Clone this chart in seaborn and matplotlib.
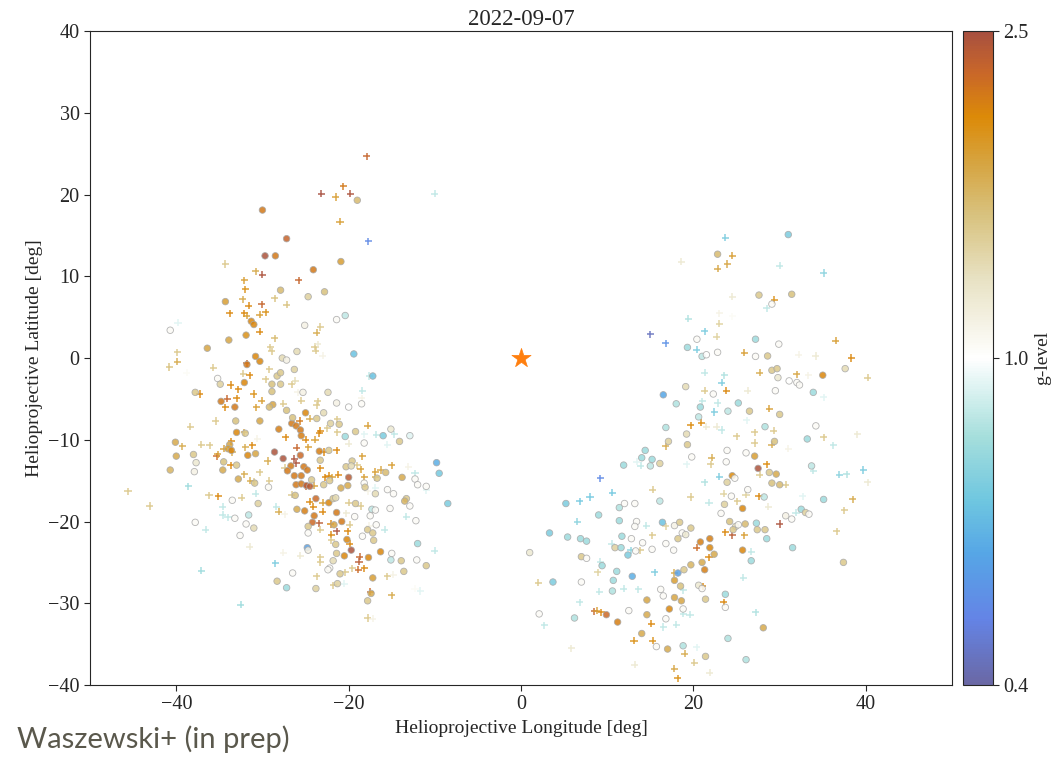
import numpy as np
import pandas as pd
import matplotlib
matplotlib.use("Agg")
import matplotlib.pyplot as plt
import seaborn as sns
from matplotlib.colors import LinearSegmentedColormap, LogNorm
from matplotlib.cm import ScalarMappable

# ---------------- data ----------------
title_text = "2022-09-07"
x_label = "Helioprojective Longitude [deg]"
y_label = "Helioprojective Latitude [deg]"
cbar_label = "g-level"
cbar_ticks = [0.4, 1.0, 2.5]
cbar_ticklabels = ["0.4", "1.0", "2.5"]
x_ticks = [-40, -20, 0, 20, 40]
y_ticks = [-40, -30, -20, -10, 0, 10, 20, 30, 40]
credit_text = "Waszewski+ (in prep)"

star_lon = [0.0]
star_lat = [0.0]

circ_lon = [
    -19.0, -30.0, -27.2, -29.7, -28.5, -20.9, -24.1, -27.9, -24.7, -22.8,
    -34.3, -31.3, -31.0, -40.7, -25.1, -21.4, -20.4, -31.9, -33.9, -36.4,
    -26.0, -19.4, -30.8, -27.7, -30.3, -31.8, -27.2, -28.3, -27.9, -26.3,
    -32.1, -35.2, -34.9, -28.9, -27.9, -37.8, -28.9, -34.8, -33.2, -28.8,
    -29.2, -27.2, -25.3, -22.4, -21.4, -20.0, -18.5, -17.2, -25.0, -26.6,
    -26.1, -26.5, -23.7, -22.9, -30.3, -33.1, -28.1, -25.6, -22.1, -21.1,
    -33.0, -32.0, -25.5, -19.2, -20.4, -18.2, -16.0, -15.1, -12.9, -14.1,
    -40.1, -40.0, -38.0, -37.7, -37.9, -40.7, -33.8, -34.0, -33.6, -34.5,
    -33.0, -34.6, -31.7, -30.8, -28.6, -27.6, -26.7, -27.1, -25.6, -25.2,
    -26.3, -25.5, -24.8, -26.1, -25.5, -24.9, -24.5, -24.3, -23.4, -23.3,
    -22.9, -22.2, -22.3, -20.9, -20.1, -20.0, -20.3, -19.6, -19.7, -18.2,
    -18.1, -16.7, -15.7, -13.8, -12.3, -12.0, -11.0, -9.8, -9.5, -8.5,
    -15.5, -14.8, -16.9, -13.3, -13.5, -12.9, -12.2, -12.0, -11.0, -13.6,
    -13.9, -15.0, -15.1, -12.1, -17.2, -17.4, -17.8, -16.3, -17.7, -19.7,
    -20.5, -20.2, -21.0, -21.3, -21.4, -21.8, -22.2, -22.4, -23.8, -21.5,
    -21.7, -20.8, -21.4, -22.3, -23.8, -24.0, -24.2, -25.1, -26.0, -24.7,
    -24.7, -24.8, -24.7, -21.8, -21.5, -19.2, -19.3, -18.4, -17.8, -17.2,
    -17.1, -17.3, -16.9, -16.8, -15.2, -17.5, -26.2, -30.5, -30.9, -33.5,
    -33.2, -31.6, -31.9, -31.0, -32.6, -37.8, -26.5, -28.3, -27.2, -29.3, -32.8,
    31.0, 22.8, 27.6, 31.4, 29.1, 20.4, 19.3, 21.0, 21.5, 22.8,
    27.2, 29.9, 27.2, 28.6, 37.6, 35.0, 33.9, 31.1, 32.0, 32.3,
    29.1, 29.7, 29.8, 29.5, 19.1, 22.3, 16.5, 18.0, 20.8, 25.2,
    24.0, 26.5, 30.0, 20.6, 16.8, 19.2, 28.3, 34.2, 33.2, 29.4,
    17.1, 19.3, 23.9, 26.1, 27.1, 14.4, 14.0, 15.2, 15.0, 16.1,
    11.9, 19.8, 23.8, 27.5, 33.7, 28.8, 29.6, 29.1, 30.0, 24.5,
    24.8, 23.9, 5.2, 9.0, 3.3, 5.4, 6.9, 7.6, 1.0, 11.4,
    12.0, 13.2, 16.1, 11.4, 13.4, 13.2, 16.4, 17.8, 18.4, 19.7,
    18.7, 19.1, 18.2, 11.7, 12.8, 14.1, 16.8, 10.9, 11.6, 12.4,
    13.3, 15.2, 17.7, 7.0, 7.6, 9.4, 11.1, 10.7, 10.6, 12.9,
    7.0, 3.7, 18.2, 18.9, 19.7, 17.8, 18.5, 16.2, 16.5, 17.8,
    18.6, 14.6, 17.2, 18.8, 16.8, 14.6, 14.0, 15.7, 17.0, 18.8,
    21.4, 26.1, 24.0, 28.1, 23.7, 23.7, 21.4, 20.6, 21.0, 21.3,
    21.0, 22.4, 21.9, 21.9, 20.8, 24.9, 24.6, 24.2, 25.2, 26.0,
    25.7, 25.7, 26.7, 27.3, 27.4, 28.3, 28.5, 31.5, 30.7, 31.4,
    32.5, 33.0, 33.4, 35.1, 28.2, 26.3, 24.4, 23.6, 23.2, 37.4,
    2.1, 9.9, 11.2, 6.2, 12.5,
]
circ_lat = [
    19.3, 18.1, 14.6, 12.5, 12.5, 11.8, 10.8, 8.3, 7.5, 8.1,
    6.9, 4.5, 4.1, 3.4, 4.0, 4.7, 5.2, 2.8, 2.2, 1.2,
    0.8, 0.5, 0.2, 0.0, -0.4, -0.8, -0.25, -2.2, -1.8, -1.4,
    -3.0, -2.5, -3.2, -3.2, -3.2, -4.2, -4.1, -5.3, -6.0, -5.7,
    -6.0, -6.4, -4.2, -4.2, -5.5, -6.0, -5.6, -2.2, -6.7, -8.0,
    -8.3, -7.3, -7.4, -6.7, -7.7, -7.7, -8.7, -8.8, -8.0, -8.1,
    -9.1, -9.2, -9.5, -9.0, -9.6, -10.4, -9.5, -8.7, -9.5, -10.2,
    -10.3, -12.0, -11.8, -12.8, -13.9, -13.7, -10.6, -11.1, -11.3, -12.7,
    -13.1, -13.7, -11.9, -11.7, -11.5, -12.3, -13.2, -13.8, -11.9, -13.3,
    -14.4, -14.4, -13.7, -15.5, -15.4, -15.6, -15.7, -14.9, -11.4, -12.5,
    -15.5, -15.0, -11.3, -15.9, -15.6, -14.6, -13.3, -12.6, -13.2, -15.3,
    -15.8, -14.7, -14.0, -14.6, -14.8, -15.5, -15.7, -12.8, -14.1, -17.8,
    -16.1, -16.6, -16.6, -17.2, -17.5, -18.1, -19.9, -22.7, -25.4, -26.1,
    -24.8, -23.9, -24.7, -24.7, -26.9, -28.8, -29.7, -23.7, -24.4, -23.5,
    -24.2, -22.2, -26.4, -27.6, -23.9, -24.8, -25.7, -25.9, -28.2, -22.8,
    -20.4, -20.0, -18.9, -17.7, -17.2, -19.3, -20.1, -18.7, -18.5, -20.6,
    -21.4, -23.2, -23.5, -17.2, -17.1, -17.8, -19.4, -21.8, -21.0, -21.4,
    -22.3, -18.5, -18.6, -20.4, -18.4, -19.3, -16.8, -17.8, -15.3, -17.4,
    -19.6, -19.2, -20.3, -20.8, -21.7, -20.1, -26.3, -27.3, -28.1, -15.8, -14.8,
    15.1, 12.7, 7.7, 7.8, 6.6, 2.3, 1.3, 0.2, 0.4, 0.7,
    2.3, 1.7, 0.2, 0.25, -1.3, -2.1, -4.2, -2.8, -3.0, -3.3,
    -1.5, -1.3, -2.4, -4.0, -3.5, -4.4, -4.5, -5.6, -6.0, -5.5,
    -6.5, -6.5, -6.9, -7.2, -8.5, -9.3, -8.4, -8.3, -9.9, -10.2,
    -10.2, -10.6, -11.3, -11.6, -12.0, -11.3, -12.2, -12.4, -13.2, -12.9,
    -13.1, -12.1, -12.7, -13.5, -13.2, -14.0, -14.2, -15.3, -15.5, -14.4,
    -14.7, -15.2, -17.8, -19.2, -21.4, -21.9, -22.1, -22.4, -23.8, -18.3,
    -17.8, -17.8, -17.5, -19.9, -20.0, -20.6, -20.1, -20.5, -20.1, -20.8,
    -21.4, -21.6, -22.1, -21.8, -22.1, -22.6, -22.7, -23.2, -23.2, -24.1,
    -23.6, -23.4, -23.5, -24.3, -24.5, -25.4, -26.1, -27.2, -28.5, -26.7,
    -27.4, -27.4, -26.3, -25.9, -25.3, -27.2, -27.9, -28.3, -29.1, -29.3,
    -29.7, -29.6, -30.7, -30.7, -31.9, -31.4, -33.7, -35.3, -35.6, -35.2,
    -36.5, -36.9, -34.3, -33.0, -28.9, -30.5, -29.5, -27.8, -28.2, -25.9,
    -25.0, -24.0, -23.2, -22.1, -22.5, -20.6, -21.0, -20.0, -20.4, -20.3,
    -18.4, -23.5, -24.8, -20.2, -21.0, -21.0, -22.1, -23.2, -19.3, -19.7,
    -18.5, -18.9, -19.1, -17.3, -17.0, -16.1, -16.9, -17.9, -19.0, -25.0,
    -31.3, -31.4, -32.3, -31.8, -30.9,
]
circ_g = [
    1.55, 2.1, 2.25, 2.45, 2.1, 1.78, 2.1, 1.55, 1.38, 1.5,
    1.78, 2.0, 2.0, 1.03, 1.1, 1.03, 0.85, 1.9, 1.72, 1.72,
    1.3, 0.66, 2.0, 1.3, 2.0, 2.1, 1.1, 1.45, 1.45, 1.38,
    2.0, 1.03, 1.38, 1.5, 1.45, 1.45, 1.5, 2.1, 2.1, 1.72,
    1.55, 1.5, 1.1, 1.3, 1.1, 1.0, 1.03, 0.66, 2.0, 2.1,
    2.1, 1.5, 1.45, 1.3, 1.72, 1.5, 2.05, 2.1, 1.38, 1.45,
    2.0, 1.45, 2.05, 1.45, 0.78, 1.03, 0.7, 1.18, 0.93, 1.45,
    1.68, 1.68, 1.45, 1.18, 1.1, 1.6, 1.72, 1.78, 2.0, 1.5,
    1.45, 1.68, 2.0, 1.72, 2.45, 2.45, 2.1, 2.1, 2.2, 2.1,
    2.1, 2.1, 2.1, 2.1, 2.1, 2.35, 2.35, 1.45, 2.05, 1.45,
    1.45, 1.45, 1.45, 1.68, 1.68, 2.35, 1.45, 1.45, 1.3, 1.03,
    1.45, 1.45, 1.55, 1.68, 1.03, 1.03, 1.03, 0.6, 0.68, 0.7,
    1.03, 1.03, 1.3, 1.45, 1.6, 1.03, 1.03, 0.78, 1.45, 1.45,
    1.45, 1.03, 0.85, 1.03, 1.78, 1.68, 1.45, 2.0, 2.0, 2.45,
    2.0, 2.0, 1.45, 1.38, 1.45, 1.3, 1.03, 1.03, 1.38, 1.45,
    1.72, 2.1, 2.1, 2.0, 2.2, 2.1, 2.2, 2.05, 1.68, 1.45,
    1.03, 0.56, 1.1, 1.45, 1.3, 1.45, 1.03, 1.03, 1.45, 1.45,
    1.45, 0.85, 1.03, 1.03, 1.03, 1.03, 1.5, 1.38, 1.45, 1.03,
    1.03, 0.85, 1.03, 1.3, 1.03, 1.03, 1.03, 1.45, 0.78, 1.03, 1.68,
    0.7, 1.55, 1.45, 1.5, 1.03, 1.03, 0.78, 0.85, 1.0, 1.03,
    0.78, 1.03, 1.03, 1.45, 1.3, 2.0, 0.78, 1.0, 1.03, 1.03,
    1.45, 1.45, 1.18, 1.03, 1.3, 1.03, 0.58, 0.82, 0.78, 0.78,
    0.85, 1.45, 1.45, 0.85, 0.82, 1.3, 0.82, 1.03, 0.78, 1.5,
    1.38, 1.45, 1.03, 1.03, 1.78, 0.78, 0.78, 0.78, 0.85, 1.38,
    0.78, 1.03, 1.03, 2.45, 0.85, 1.45, 1.68, 1.5, 1.55, 1.95,
    1.03, 1.38, 0.7, 0.78, 0.7, 0.78, 0.78, 0.78, 1.18, 0.82,
    1.03, 1.03, 0.85, 0.78, 1.03, 1.03, 0.66, 1.1, 1.45, 1.45,
    1.03, 1.18, 1.45, 0.78, 1.03, 1.03, 1.03, 1.38, 0.78, 0.7,
    1.03, 1.03, 1.03, 1.45, 1.03, 0.78, 0.78, 0.78, 0.82, 0.6,
    1.03, 0.7, 0.56, 1.45, 1.6, 1.78, 1.5, 1.03, 1.03, 1.72,
    1.72, 1.72, 2.0, 1.03, 1.03, 1.68, 1.68, 1.03, 1.68, 0.82,
    1.45, 0.82, 0.82, 1.68, 0.78, 1.03, 1.45, 1.18, 1.03, 2.05,
    1.68, 1.68, 2.0, 2.05, 2.05, 1.3, 1.45, 1.5, 1.03, 1.55,
    2.0, 2.0, 0.78, 0.78, 1.45, 1.45, 0.78, 0.78, 1.1, 1.03,
    0.78, 1.38, 1.03, 0.78, 0.85, 1.03, 1.03, 1.38, 1.03, 1.45,
    1.03, 2.2, 2.05, 0.82, 1.03,
]

plus_lon = [
    -17.9, -23.2, -20.6, -19.8, -21.5, -21.0, -17.7, -25.8, -34.3, -30.8,
    -30.0, -32.1, -32.0, -32.3, -31.6, -30.1, -28.6, -27.2, -33.8, -32.1,
    -31.8, -30.3, -29.6, -39.8, -23.3, -23.7, -30.3, -28.6, -39.9, -29.1,
    -28.9, -23.9, -23.8, -23.6, -23.0, -10.0, -31.8, -39.9, -40.8, -38.8,
    -35.7, -29.2, -32.2, -31.5, -29.6, -26.6, -26.2, -33.7, -32.8, -37.3,
    -31.0, -33.0, -34.1, -34.3, -30.1, -30.7, -27.6, -25.5, -25.9, -23.6,
    -23.7, -18.4, -18.5, -17.6, -25.7, -24.5, -35.4, -38.4, -23.3, -21.3,
    -22.5, -32.1, -30.6, -27.3, -25.0, -23.9, -23.4, -21.3, -20.0, -17.8,
    -18.2, -16.8, -14.7, -15.5, -39.3, -37.1, -36.1, -35.3, -35.2, -34.5,
    -33.6, -33.5, -33.7, -32.0, -31.2, -29.4, -27.4, -26.3, -26.0, -26.1,
    -24.7, -24.9, -24.0, -22.9, -23.3, -22.7, -22.3, -21.9, -21.2, -21.4,
    -19.0, -18.6, -18.4, -18.2, -16.9, -16.3, -16.9, -15.0, -13.1, -12.3,
    -11.0, -16.9, -17.8, -13.3, -10.0, -15.5, -14.8, -15.0, -12.3, -11.7,
    -17.5, -17.8, -17.2, -18.7, -18.8, -18.2, -18.9, -19.6, -19.9, -20.1,
    -20.4, -21.8, -20.5, -23.3, -23.3, -23.7, -22.1, -21.4, -22.0, -22.0,
    -23.0, -24.1, -24.5, -23.4, -23.3, -23.0, -20.0, -18.6, -20.3, -19.9,
    -17.6, -15.8, -26.6, -27.4, -28.1, -28.4, -30.8, -31.0, -31.4, -32.4,
    -34.6, -34.6, -34.0, -35.1, -36.2, -38.6, -45.6, -43.1, -36.6, -37.1,
    -32.5, -31.5, -28.5, -27.6, -25.6, -29.2, -30.3, -32.1,
    23.7, 24.5, 23.9, 22.8, 18.6, 30.0, 35.1, 24.5, 29.4, 28.5,
    23.0, 23.0, 24.5, 19.4, 21.3, 22.7, 15.0, 16.8, 20.4, 25.9,
    32.2, 34.2, 36.5, 38.3, 40.2, 35.1, 33.3, 32.0, 27.7, 21.3,
    23.6, 23.3, 21.3, 23.8, 26.3, 21.0, 22.8, 22.4, 28.8, 19.7,
    20.9, 21.5, 22.7, 23.3, 26.2, 27.1, 29.3, 35.1, 39.0, 36.2,
    25.0, 27.1, 29.1, 31.0, 16.8, 13.4, 13.9, 22.1, 22.0, 19.2,
    28.5, 33.9, 39.7, 36.9, 37.8, 9.2, 27.7, 30.7, 40.2, 23.0,
    21.3, 15.3, 10.6, 8.0, 6.8, 6.5, 14.5, 16.8, 15.2, 10.5,
    12.7, 13.8, 9.2, 8.9, 11.9, 9.1, 13.6, 15.5, 2.0, 17.8,
    18.8, 18.8, 19.6, 15.1, 16.5, 18.0, 13.1, 15.3, 19.0, 20.4,
    17.8, 18.2, 20.1, 21.9, 27.2, 23.5, 21.1, 21.8, 20.4, 23.7,
    24.5, 25.9, 26.7, 25.8, 30.0, 31.9, 32.7, 27.6, 28.7, 26.1,
    25.1, 23.5, 19.7, 21.8, 37.5, 38.5, 36.6, 2.7, 5.8, 8.5,
    8.8, 9.3, 6.8, 13.2,
]
plus_lat = [
    24.7, 20.1, 21.0, 20.1, 19.7, 16.7, 14.3, 9.5, 11.5, 10.6,
    10.2, 9.5, 8.4, 7.2, 6.4, 6.6, 7.3, 6.5, 5.5, 5.5,
    5.2, 5.3, 5.6, 4.3, 3.8, 3.1, 3.2, 2.4, 0.7, 1.3,
    0.8, 1.4, 0.9, 1.7, 0.3, 20.1, -0.65, -0.45, -1.1, -1.8,
    -1.2, -1.35, -1.9, -2.1, -2.6, -3.2, -2.8, -3.3, -3.8, -4.4,
    -4.4, -4.9, -5.0, -6.0, -5.2, -6.0, -5.6, -5.2, -4.2, -5.3,
    -5.8, -4.0, -4.9, -2.2, -7.7, -7.4, -7.7, -8.4, -8.9, -7.5,
    -8.6, -9.1, -9.9, -9.7, -10.0, -10.0, -9.2, -9.1, -10.5, -8.3,
    -9.3, -9.4, -9.3, -10.6, -10.8, -10.6, -10.7, -12.0, -11.8, -11.1,
    -10.2, -11.5, -13.1, -10.9, -10.7, -12.6, -13.4, -12.3, -11.0, -12.9,
    -10.9, -15.7, -15.6, -11.5, -13.5, -14.6, -14.4, -14.6, -14.3, -11.3,
    -13.1, -13.6, -12.0, -14.6, -13.9, -13.7, -14.6, -13.1, -13.3, -14.1,
    -16.2, -15.9, -16.3, -19.4, -23.6, -26.7, -26.5, -29.0, -28.2, -28.5,
    -28.6, -31.8, -31.9, -24.3, -24.9, -25.7, -25.9, -25.7, -22.7, -21.2,
    -26.2, -27.8, -27.6, -25.0, -24.4, -26.7, -20.3, -21.2, -21.6, -22.3,
    -18.8, -18.2, -17.6, -20.2, -21.0, -17.7, -17.7, -18.1, -19.0, -20.4,
    -20.5, -21.0, -16.7, -19.1, -18.8, -18.2, -16.6, -15.1, -15.0, -17.1,
    -18.2, -19.2, -19.5, -16.9, -16.8, -15.7, -16.3, -18.1, -21.0, -26.0,
    -30.2, -23.1, -25.1, -23.8, -24.2, -15.0, -14.0, -14.2,
    14.7, 12.5, 11.5, 10.9, 11.8, 11.3, 10.4, 7.5, 7.1, 6.1,
    5.5, 4.2, 5.1, 4.8, 3.3, 2.6, 2.9, 1.8, 1.0, 0.65,
    0.4, 0.25, 2.1, 0.0, -2.4, -4.8, -2.1, -2.0, -1.8, -1.8,
    -2.1, -3.0, -4.0, -4.0, -4.0, -5.3, -5.5, -6.6, -6.2, -8.2,
    -7.9, -8.4, -8.4, -8.8, -7.6, -9.1, -8.9, -9.7, -9.3, -10.7,
    -9.6, -10.4, -10.6, -11.1, -10.8, -12.7, -13.2, -12.2, -13.0, -13.0,
    -13.0, -13.8, -13.7, -14.3, -14.2, -14.7, -14.3, -15.5, -15.2, -14.5,
    -15.2, -16.1, -16.5, -17.0, -17.5, -20.0, -20.5, -20.6, -21.7, -22.7,
    -23.5, -23.5, -24.9, -26.2, -28.2, -28.6, -28.3, -26.2, -27.5, -26.3,
    -28.4, -31.3, -31.4, -32.5, -32.9, -32.6, -34.6, -34.6, -36.2, -35.4,
    -38.0, -39.2, -37.3, -38.5, -31.1, -29.9, -27.9, -24.4, -23.2, -21.3,
    -21.7, -21.7, -23.7, -26.9, -20.3, -18.9, -16.9, -16.9, -18.2, -16.7,
    -17.5, -16.6, -17.0, -17.7, -18.6, -17.3, -21.2, -32.7, -35.5, -31.0,
    -30.9, -31.1, -29.9, -37.5,
]
plus_g = [
    2.25, 2.5, 2.1, 2.45, 1.78, 1.78, 0.5, 2.25, 1.45, 1.68,
    2.45, 1.78, 1.9, 1.68, 2.0, 2.25, 1.5, 1.5, 2.0, 2.0,
    1.78, 1.78, 1.9, 0.93, 1.45, 1.68, 2.0, 1.55, 1.45, 1.45,
    1.45, 1.45, 1.45, 1.18, 1.1, 0.85, 2.25, 1.68, 1.5, 1.03,
    1.45, 1.45, 1.45, 2.0, 1.45, 1.45, 1.3, 2.0, 2.0, 2.0,
    1.9, 2.0, 2.25, 2.0, 1.78, 1.78, 1.45, 1.45, 1.1, 1.45,
    1.45, 0.85, 1.1, 0.85, 2.1, 1.68, 1.45, 1.45, 2.0, 1.45,
    1.45, 1.72, 1.1, 2.0, 2.0, 1.78, 2.0, 1.45, 1.18, 1.78,
    0.93, 0.85, 0.85, 0.93, 1.68, 1.45, 1.45, 2.2, 1.78, 1.78,
    2.0, 1.68, 2.0, 1.68, 2.0, 1.68, 1.45, 2.45, 2.25, 2.45,
    1.78, 2.25, 1.78, 2.0, 2.0, 2.0, 2.0, 1.78, 2.0, 2.0,
    1.45, 1.78, 1.78, 1.78, 1.78, 1.72, 1.68, 1.78, 1.1, 0.85,
    0.93, 0.93, 1.1, 0.85, 0.85, 1.45, 1.1, 1.68, 1.03, 0.93,
    2.2, 1.45, 1.1, 2.25, 2.35, 2.0, 2.2, 1.45, 2.0, 2.0,
    1.45, 1.45, 0.93, 1.45, 1.45, 1.45, 2.0, 2.45, 2.0, 1.45,
    2.0, 2.0, 2.0, 2.35, 1.45, 1.78, 1.45, 1.45, 1.18, 1.45,
    1.1, 0.85, 1.45, 1.1, 1.68, 0.85, 0.85, 1.45, 1.68, 1.45,
    0.85, 0.85, 0.85, 2.0, 1.45, 0.78, 1.45, 1.45, 0.85, 0.78,
    0.78, 1.18, 0.7, 1.1, 1.18, 1.45, 1.45, 1.68,
    0.7, 1.78, 1.72, 1.72, 1.18, 0.85, 0.74, 1.18, 1.9, 0.85,
    1.1, 1.38, 1.03, 0.82, 0.7, 1.38, 0.43, 0.52, 0.7, 1.78,
    1.1, 1.18, 1.78, 2.0, 1.45, 0.93, 1.1, 1.72, 1.68, 0.85,
    0.82, 0.7, 1.45, 2.0, 1.18, 0.85, 0.85, 0.7, 1.78, 1.95,
    1.95, 1.18, 1.18, 0.85, 0.93, 1.45, 1.45, 1.45, 1.18, 0.85,
    1.45, 1.45, 1.68, 1.1, 1.68, 0.93, 0.85, 1.68, 1.45, 0.93,
    1.95, 0.85, 0.7, 0.74, 0.82, 0.5, 1.45, 1.45, 1.18, 0.7,
    0.82, 1.45, 0.68, 0.68, 0.68, 0.74, 0.85, 1.38, 1.45, 0.85,
    0.74, 1.45, 0.85, 1.38, 0.85, 0.85, 0.85, 0.7, 1.45, 1.68,
    0.85, 0.85, 0.85, 2.0, 0.85, 0.85, 1.9, 1.9, 1.68, 0.93,
    1.72, 1.9, 1.45, 1.18, 0.82, 2.0, 2.0, 2.0, 2.2, 2.0,
    2.35, 1.78, 0.85, 0.85, 2.45, 0.85, 0.93, 2.0, 1.18, 1.38,
    1.45, 1.38, 1.45, 0.85, 1.45, 1.68, 1.45, 0.85, 1.18, 2.25,
    1.78, 2.0, 0.85, 1.18,
]

# colour scale of the colour bar (g-level, log scaled, white at 1.0)
cmap_positions = [0.0, 0.10, 0.20, 0.28, 0.38, 0.50, 0.62, 0.72, 0.80, 0.87, 0.94, 1.0]
cmap_colors = ["#6a68a5", "#6484e6", "#56a6e6", "#6ec6e0", "#a6dfdc", "#ffffff",
               "#e8e2c4", "#d8c27e", "#d6a440", "#dc8a08", "#c8662a", "#a8503f"]

# ---------------- plotting ----------------
sns.set_style("ticks")
plt.rcParams["font.family"] = ["Liberation Serif", "DejaVu Serif"]
plt.rcParams["axes.unicode_minus"] = True

cmap = LinearSegmentedColormap.from_list("glevel", list(zip(cmap_positions, cmap_colors)))
norm = LogNorm(vmin=0.4, vmax=2.5)

df_c = pd.DataFrame({"lon": circ_lon, "lat": circ_lat, "g": circ_g})
df_p = pd.DataFrame({"lon": plus_lon, "lat": plus_lat, "g": plus_g})
df_s = pd.DataFrame({"lon": star_lon, "lat": star_lat})

fig = plt.figure(figsize=(10.52, 7.57), dpi=100)
ax = fig.add_axes([0.0856, 0.0951, 0.8194, 0.8639])
cax = fig.add_axes([0.9154, 0.0951, 0.0285, 0.8639])

sns.scatterplot(data=df_p, x="lon", y="lat", hue="g", hue_norm=norm, palette=cmap,
                marker="+", s=26, linewidth=1.1, alpha=0.9, legend=False, ax=ax)
sns.scatterplot(data=df_c, x="lon", y="lat", hue="g", hue_norm=norm, palette=cmap,
                marker="o", s=22, edgecolor="#a8a8a8", linewidth=0.6, alpha=0.85,
                legend=False, ax=ax)
sns.scatterplot(data=df_s, x="lon", y="lat", marker="*", s=210, color="#ff7f0e",
                edgecolor="#ff7f0e", linewidth=0.5, legend=False, ax=ax, zorder=5)

ax.set_xlim(-50, 50)
ax.set_ylim(-40, 40)
ax.set_xticks(x_ticks)
ax.set_yticks(y_ticks)
ax.tick_params(labelsize=14.5, direction="out", length=4, width=0.8)
ax.set_xlabel(x_label, fontsize=14)
ax.set_ylabel(y_label, fontsize=14)
ax.set_title(title_text, fontsize=16.5, pad=4)
for sp in ax.spines.values():
    sp.set_visible(True)
    sp.set_linewidth(0.8)

sm = ScalarMappable(norm=norm, cmap=cmap)
cb = fig.colorbar(sm, cax=cax)
cb.minorticks_off()
cb.set_ticks(cbar_ticks)
cb.set_ticklabels(cbar_ticklabels)
cb.ax.tick_params(labelsize=14.5, length=4, width=0.8)
cb.set_label(cbar_label, fontsize=14)
cb.outline.set_linewidth(0.8)

fig.text(0.016, 0.012, credit_text, fontsize=21, color="#5a584c",
         family=["Lato", "DejaVu Sans"], ha="left", va="baseline")

fig.savefig("out.png", dpi=100)
